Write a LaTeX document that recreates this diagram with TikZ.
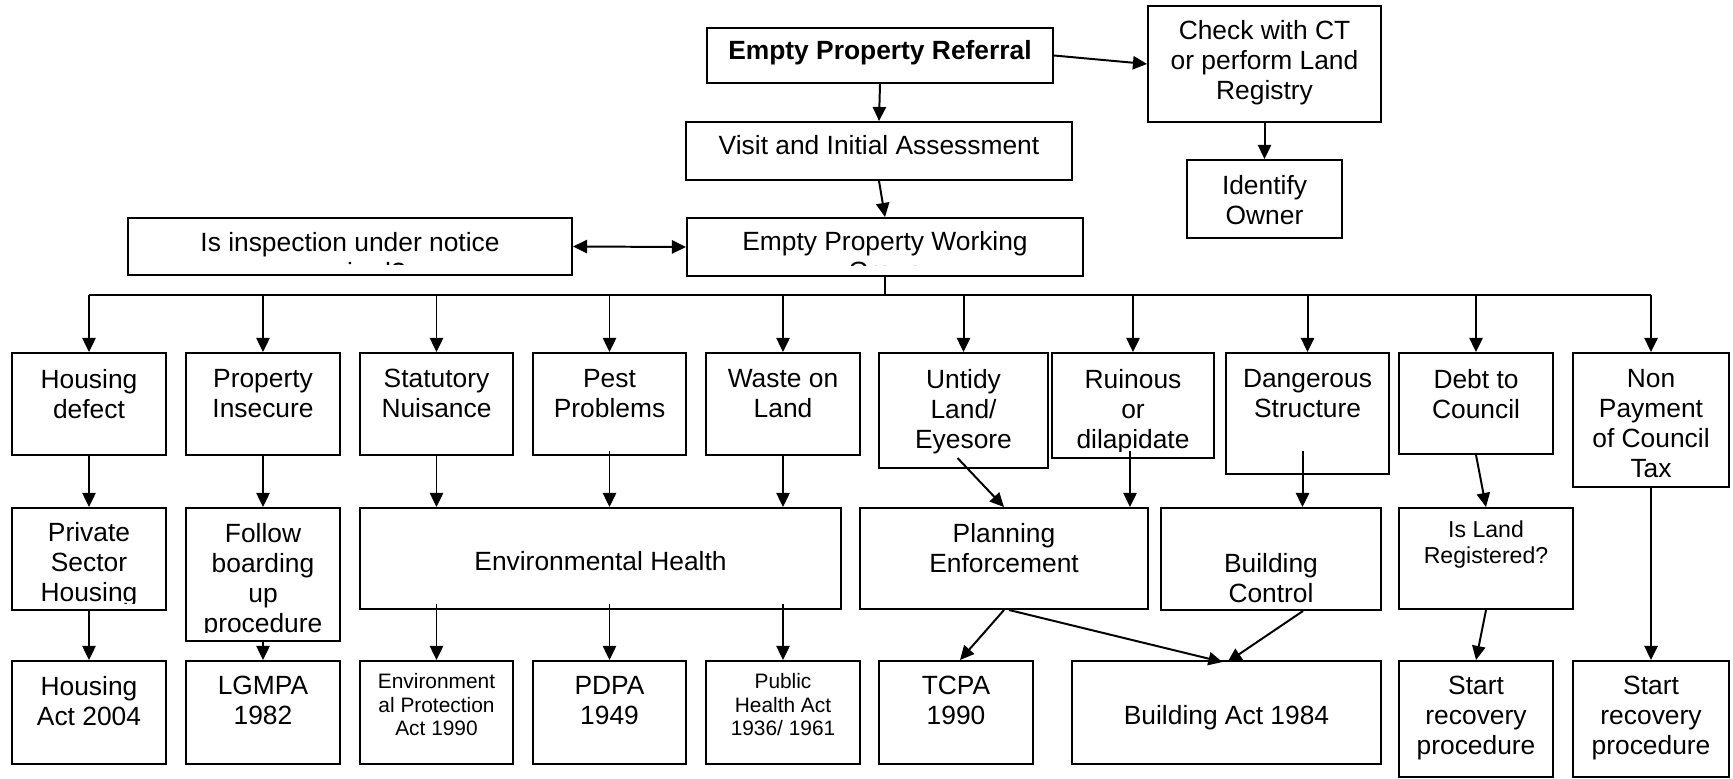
\documentclass[tikz,border=0pt]{standalone}
\usepackage{fontspec}
\setmainfont{Liberation Sans}
\usetikzlibrary{arrows.meta,calc}
\tikzset{
 box/.style={draw, line width=0.9pt, fill=white, inner sep=0pt, rectangle},
 txt/.style={inner sep=0pt, align=center, anchor=north, font={\fontsize{12}{13.75}\selectfont}},
 sm/.style={font={\fontsize{9.5}{10.9}\selectfont}},
 md/.style={font={\fontsize{10.5}{11.6}\selectfont}},
 bd/.style={font={\bfseries\fontsize{12}{13.75}\selectfont}},
 arr/.style={line width=0.9pt, -{Triangle[length=6.4pt,width=6pt]}},
 biarr/.style={line width=0.9pt, {Triangle[length=6.4pt,width=6pt]}-{Triangle[length=6.4pt,width=6pt]}},
 ln/.style={line width=0.9pt},
}
\newcommand\myclipin{7}
% #1 name, #2 left, #3 top, #4 right, #5 bottom, #6 cap top, #7 text style, #8 text
\newcommand\bxt[8]{%
  \node[box, minimum width={(#4-#2)*0.455pt}, minimum height={(#5-#3)*0.455pt}] (#1) at ({(#2+#4)/2},{(#3+#5)/2}) {};
  \begin{scope}
    \clip (#2,#3) rectangle (#4,#5-\myclipin);
    \node[txt,#7] (#1t) at ({(#2+#4)/2},#6-2.5) {#8};
  \end{scope}
}
\begin{document}
\begin{tikzpicture}[x=0.455pt, y=-0.455pt]
\useasboundingbox (0,0) rectangle (1733,778);
% top part
\bxt{ref}{707}{28}{1053}{83}{42}{bd}{Empty Property Referral}
\bxt{chk}{1148}{6}{1381}{122}{22}{}{Check with CT\\or perform Land\\Registry}
\bxt{idn}{1187}{160}{1342}{238}{177}{}{Identify\\Owner}
\bxt{via}{686}{122}{1072}{180}{137}{}{Visit and Initial Assessment}
\renewcommand\myclipin{11}
\bxt{wg}{687}{218}{1083}{276}{233}{}{Empty Property Working\\Group}
\bxt{insp}{128}{218}{572}{275}{234}{}{Is inspection under notice\\required?}
\renewcommand\myclipin{7}
% row 1
\bxt{hd}{12}{353}{166}{455}{371}{}{Housing\\defect}
\bxt{pi}{186}{353}{340}{455}{371}{}{Property\\Insecure}
\bxt{sn}{360}{353}{513}{455}{371}{}{Statutory\\Nuisance}
\bxt{pp}{533}{353}{686}{455}{371}{}{Pest\\Problems}
\bxt{wl}{706}{353}{860}{455}{371}{}{Waste on\\Land}
\bxt{ul}{879}{353}{1048}{468}{371}{}{Untidy\\Land/\\Eyesore}
\bxt{rd}{1052}{353}{1214}{458}{371}{}{Ruinous\\or\\dilapidate}
\bxt{ds}{1226}{353}{1389}{474}{371}{}{Dangerous\\Structure}
\bxt{dc}{1399}{353}{1553}{454}{371}{}{Debt to\\Council}
\bxt{np}{1573}{353}{1729}{487}{371}{}{Non\\Payment\\of Council\\Tax}
% row 2
\bxt{psh}{12}{508}{166}{610}{524}{}{Private\\Sector\\Housing}
\renewcommand\myclipin{9}
\bxt{fol}{186}{508}{340}{641}{525}{}{Follow\\boarding\\up\\procedure}
\renewcommand\myclipin{7}
\bxt{eh}{360}{508}{841}{609}{553}{}{Environmental Health}
\bxt{pe}{860}{508}{1148}{609}{525}{}{Planning\\Enforcement}
\bxt{bc}{1161}{508}{1381}{610}{555}{}{Building\\Control}
\bxt{il}{1399}{508}{1573}{609}{523}{md}{Is Land\\Registered?}
% row 3
\bxt{hact}{12}{661}{166}{764}{678}{}{Housing\\Act 2004}
\bxt{lg}{186}{661}{340}{764}{678}{}{LGMPA\\1982}
\bxt{epa}{360}{661}{513}{764}{675}{sm}{Environment\\al Protection\\Act 1990}
\bxt{pdpa}{533}{661}{686}{764}{678}{}{PDPA\\1949}
\bxt{pha}{706}{661}{860}{764}{675}{sm}{Public\\Health Act\\1936/ 1961}
\bxt{tcpa}{879}{661}{1033}{764}{678}{}{TCPA\\1990}
\bxt{ba}{1072}{661}{1381}{764}{707}{}{Building Act 1984}
\bxt{sra}{1399}{661}{1553}{777}{678}{}{Start\\recovery\\procedure}
\bxt{srb}{1573}{661}{1729}{777}{678}{}{Start\\recovery\\procedure}
% top connectors
\draw[arr] (ref.south) -- (via.north);
\draw[arr] (via.south) -- (wg.north);
\draw[arr] (ref.east) -- (chk.west);
\draw[arr] (chk.south) -- (idn.north);
\draw[biarr] (insp.east) -- (wg.west);
% bus
\coordinate (busL) at (89,295);
\coordinate (busR) at (1651,295);
\draw[ln] (wg.south) -- (wg.south |- busL);
\draw[ln] (busL) -- (busR);
\foreach \n in {hd,pi,sn,pp,wl,ul,rd,ds,dc,np}{
  \draw[arr] (\n.north |- busL) -- (\n.north);
}
% row 1 -> row 2
\draw[arr] (hd.south) -- (psh.north);
\draw[arr] (pi.south) -- (fol.north);
\draw[arr] (sn.south) -- (sn.south |- eh.north);
\draw[arr] ($(pp.south)+(0,-5)$) -- (pp.south |- eh.north);
\draw[arr] (wl.south) -- (wl.south |- eh.north);
\draw[arr] ($(ul.south)+(-6,-11)$) -- (pe.north);
\coordinate (rdS) at ($(rd.south)+(-3,-8)$);
\draw[arr] (rdS) -- (rdS |- pe.north);
\coordinate (dsS) at ($(ds.south)+(-5,-24)$);
\draw[arr] (dsS) -- (dsS |- bc.north);
\draw[arr] (dc.south) -- (il.north);
\draw[arr] (np.south) -- (srb.north);
% row 2 -> row 3
\draw[arr] (psh.south) -- (hact.north);
\draw[arr] (fol.south) -- (lg.north);
\draw[arr] ($(eh.south -| epa.north)+(0,-6)$) -- (epa.north);
\draw[arr] ($(eh.south -| pdpa.north)+(0,-6)$) -- (pdpa.north);
\draw[arr] ($(eh.south -| pha.north)+(0,-6)$) -- (pha.north);
\draw[arr] (pe.south) -- ($(tcpa.north)+(4,0)$);
\draw[arr] ($(pe.south)+(5,0)$) -- ($(ba.north)+(-4,2)$);
\draw[arr] ($(bc.south)+(32,0)$) -- ($(ba.north)+(1,2)$);
\draw[arr] (il.south) -- (sra.north);
\end{tikzpicture}
\end{document}
